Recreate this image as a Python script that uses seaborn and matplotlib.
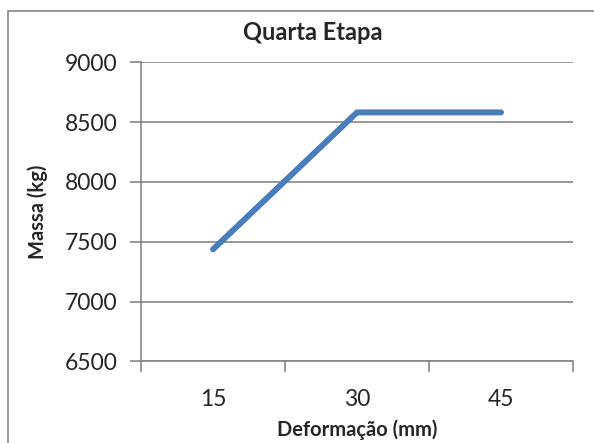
import matplotlib
matplotlib.use("Agg")
import matplotlib.pyplot as plt
import matplotlib.patches as mpatches
import seaborn as sns
import pandas as pd

# data
deformacao = ["15", "30", "45"]
massa = [7436, 8581, 8581]
y_ticks = [6500, 7000, 7500, 8000, 8500, 9000]

sns.set_style("white")
plt.rcParams['font.family'] = ['Lato', 'DejaVu Sans']

df = pd.DataFrame({"Deformação (mm)": deformacao, "Massa (kg)": massa})

fig = plt.figure(figsize=(5.94, 4.43), dpi=100)
ax = fig.add_axes([0.2374, 0.1844, 0.7273, 0.675])

grid_col = '#868686'
sns.lineplot(data=df, x="Deformação (mm)", y="Massa (kg)", ax=ax,
             color='#4A7EBB', linewidth=4.3, solid_capstyle='round',
             solid_joinstyle='miter', zorder=3)

ax.set_xlim(-0.5, 2.5)
ax.set_ylim(6500, 9000)
ax.set_yticks(y_ticks)
ax.set_yticklabels([str(v) for v in y_ticks], fontsize=16.5)
ax.set_xticks(range(len(deformacao)))
ax.set_xticklabels(deformacao, fontsize=16.5)
ax.set_xticks([-0.5, 0.5, 1.5, 2.5], minor=True)
ax.tick_params(axis='x', which='major', bottom=False, length=0, pad=20)
ax.tick_params(axis='x', which='minor', bottom=True, length=8, width=1.2,
               color=grid_col, direction='out')
ax.tick_params(axis='y', left=True, length=8, width=1.2, color=grid_col,
               direction='out', pad=9)

ax.yaxis.grid(True, color=grid_col, linewidth=1.2)
ax.set_axisbelow(True)
for side in ['top', 'right']:
    ax.spines[side].set_visible(False)
for side in ['left', 'bottom']:
    ax.spines[side].set_color(grid_col)
    ax.spines[side].set_linewidth(1.2)

ax.set_xlabel("Deformação (mm)", fontsize=14.5, fontweight='bold', labelpad=7)
ax.set_ylabel("Massa (kg)", fontsize=14.5, fontweight='bold', labelpad=12)

fig.text(313 / 594, 1 - 33 / 443, "Quarta Etapa", fontsize=17, fontweight='bold',
         ha='center', va='center')

# outer chart border
frame = mpatches.Rectangle((7.6 / 594, -0.05), 1.1, 1 - 11 / 443 + 0.05,
                           transform=fig.transFigure, fill=False,
                           edgecolor=grid_col, linewidth=1.2)
fig.patches.append(frame)

plt.savefig('out.png', dpi=100)
